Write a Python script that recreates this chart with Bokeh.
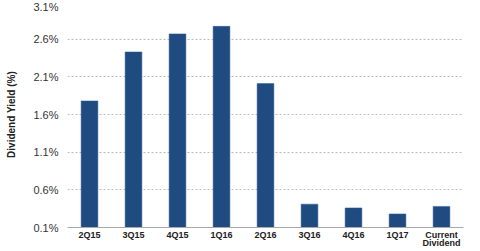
from bokeh.plotting import figure
from bokeh.models import FactorRange, Range1d, FixedTicker, CustomJSTickFormatter
from bokeh.embed import file_html
from bokeh.resources import INLINE

categories = ["2Q15", "3Q15", "4Q15", "1Q16", "2Q16", "3Q16", "4Q16", "1Q17", "Current\nDividend"]
dividend_yield = [1.78, 2.43, 2.67, 2.77, 2.01, 0.41, 0.36, 0.28, 0.38]
y_ticks = [0.1, 0.6, 1.1, 1.6, 2.1, 2.6, 3.1]

p = figure(x_range=FactorRange(*categories), y_range=Range1d(0.1, 3.1),
           width=480, height=251, output_backend="svg", toolbar_location=None,
           min_border_left=67, min_border_right=17, min_border_top=1, min_border_bottom=19)
p.outline_line_color = None
p.background_fill_color = "white"
p.border_fill_color = "white"

p.vbar(x=categories, top=dividend_yield, bottom=0.1, width=0.38,
       fill_color="#1f4b80", line_color="#2a5a92", line_width=0.5)

p.x_range.range_padding = 0
p.yaxis.ticker = FixedTicker(ticks=y_ticks)
p.yaxis.formatter = CustomJSTickFormatter(code="return tick.toFixed(1) + '%';")
p.yaxis.axis_line_color = None
p.yaxis.major_tick_out = 0
p.yaxis.major_tick_in = 0
p.yaxis.minor_tick_line_color = None
p.yaxis.major_label_text_font = "Liberation Sans"
p.yaxis.major_label_text_font_size = "11px"
p.yaxis.major_label_text_color = "#333333"
p.yaxis.major_label_standoff = 9
p.yaxis.axis_label = "Dividend Yield (%)"
p.yaxis.axis_label_text_font = "Liberation Sans"
p.yaxis.axis_label_text_font_size = "10px"
p.yaxis.axis_label_text_font_style = "bold"
p.yaxis.axis_label_text_color = "#222222"
p.yaxis.axis_label_standoff = 13

p.xaxis.axis_line_color = "#aaaaaa"
p.xaxis.major_tick_out = 0
p.xaxis.major_tick_in = 0
p.xaxis.major_tick_line_color = None
p.xaxis.major_label_text_font = "Liberation Sans"
p.xaxis.major_label_text_font_size = "9px"
p.xaxis.major_label_text_font_style = "bold"
p.xaxis.major_label_text_color = "#222222"
p.xaxis.major_label_text_line_height = 0.85
p.xaxis.major_label_standoff = 2
p.xaxis.axis_label_standoff = 0

p.xgrid.grid_line_color = None
p.ygrid.grid_line_color = "#bbbbbb"
p.ygrid.grid_line_dash = "2 2"
p.ygrid.grid_line_width = 1

open("out.html", "w").write(file_html(p, INLINE))
